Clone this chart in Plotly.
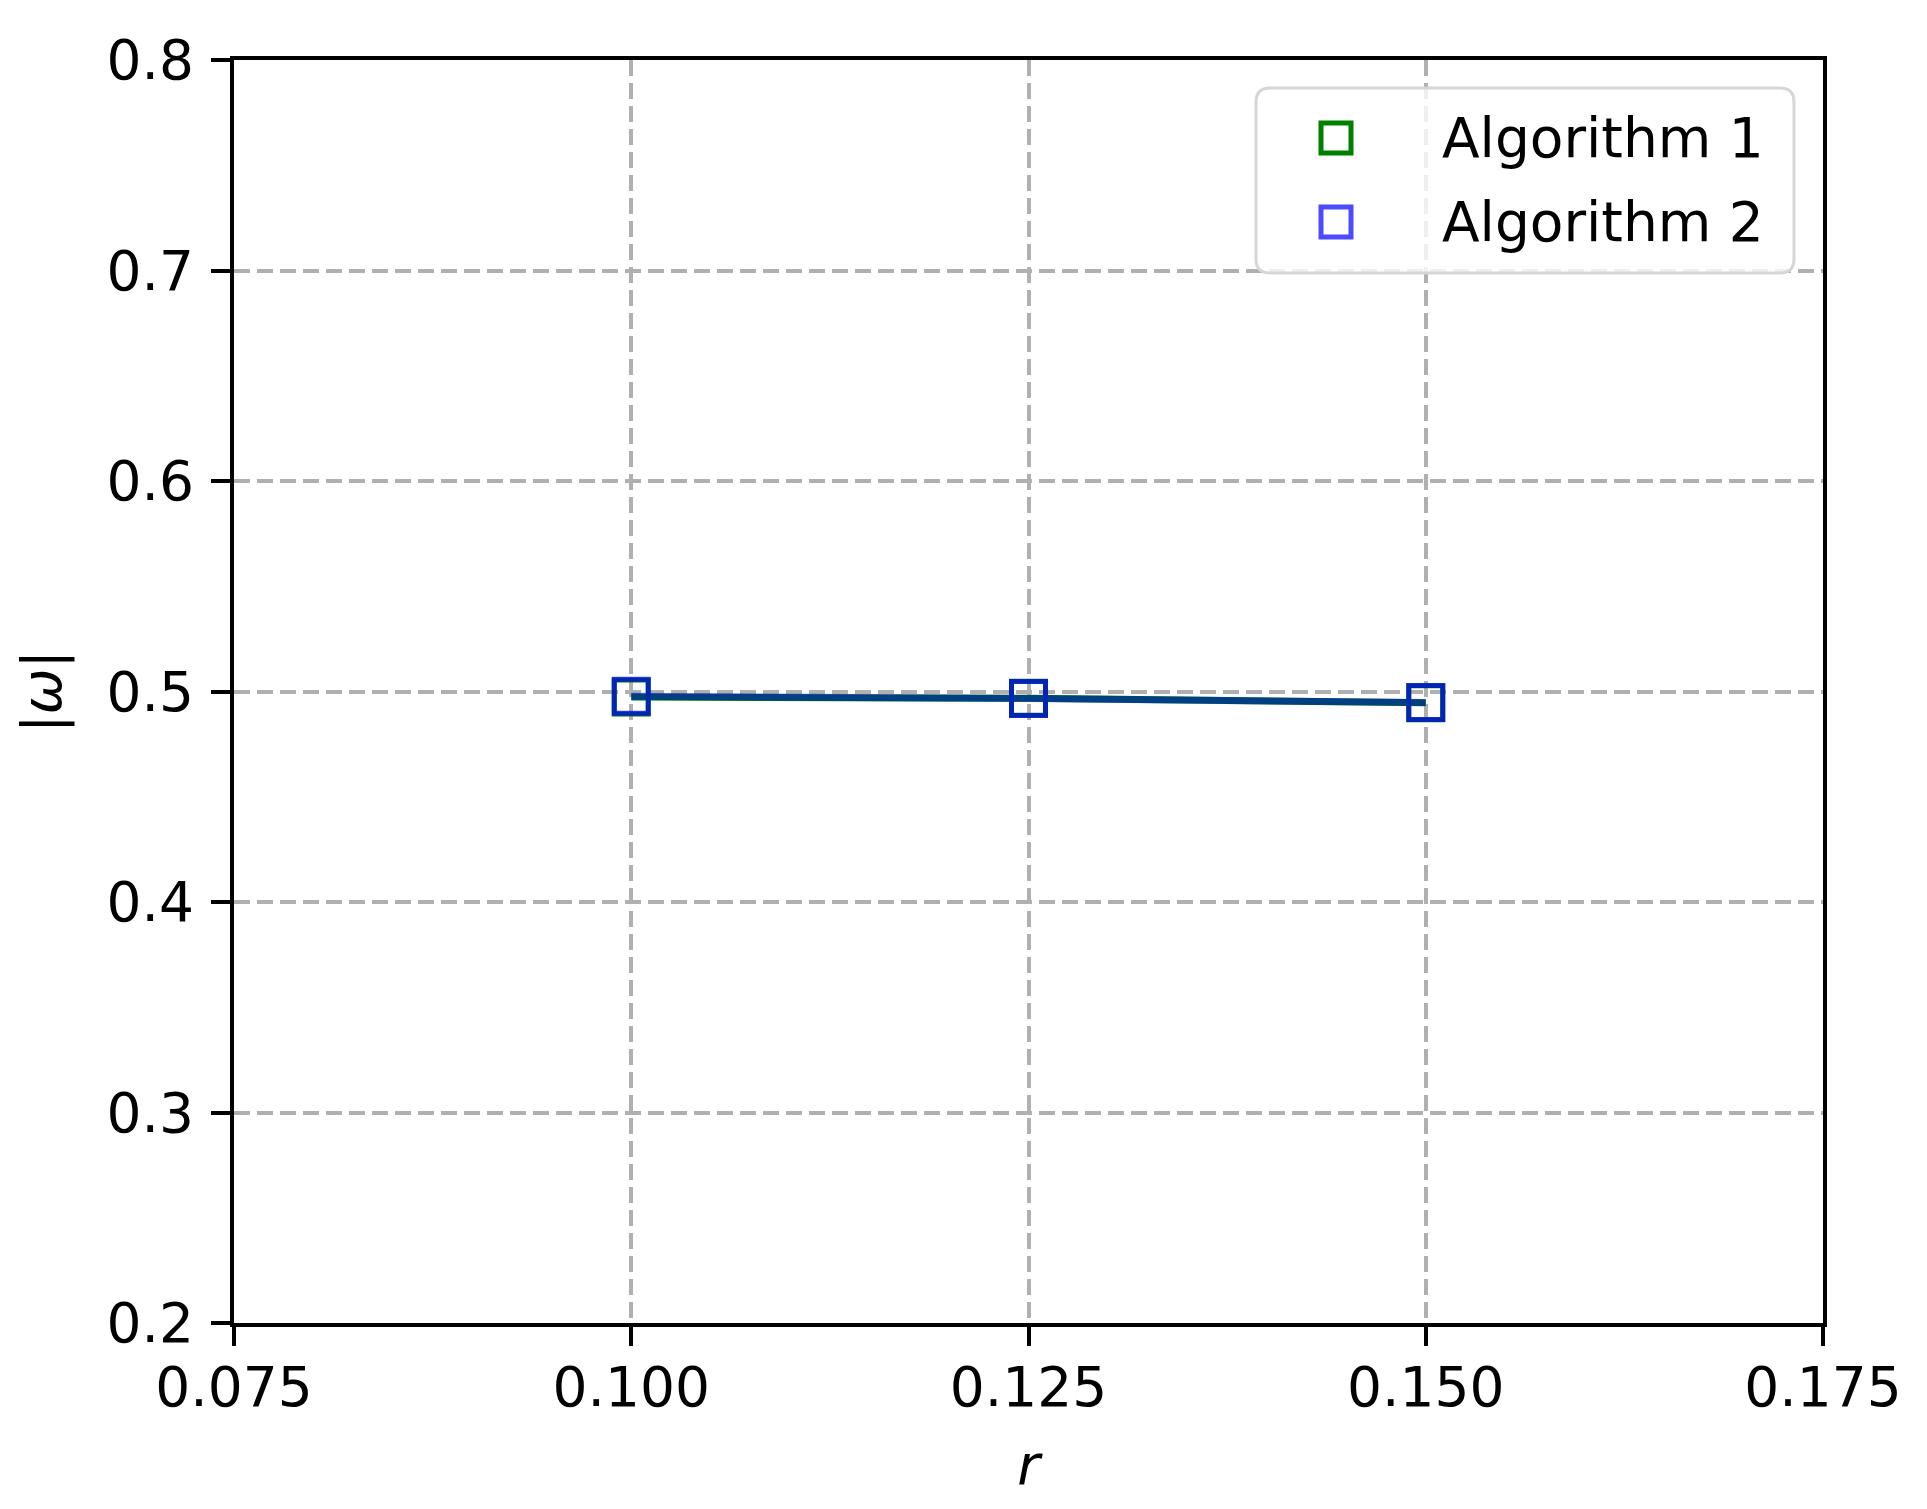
import plotly.graph_objects as go

r_values = [0.100, 0.125, 0.150]
omega_alg1 = [0.4974, 0.4968, 0.4947]
omega_alg2 = [0.4977, 0.4967, 0.4948]
series_names = ["Algorithm 1", "Algorithm 2"]
series_colors = ["#008000", "rgba(0,0,255,0.7)"]
line_colors = ["#008000", "rgba(0,0,255,0.5)"]
x_ticks = [0.075, 0.100, 0.125, 0.150, 0.175]
y_ticks = [0.2, 0.3, 0.4, 0.5, 0.6, 0.7, 0.8]
x_range = [0.075, 0.175]
y_range = [0.2, 0.8]

FONT = "DejaVu Sans"
FS = 55
MSIZE = 34
MLW = 5

# page-pixel geometry of the plot area (body has an 8px margin)
PL, PR, PT, PB = 234, 1823, 60, 1323
W, H = 1911, 1493


def px_to_x(px):
    return x_range[0] + (px - PL) / (PR - PL) * (x_range[1] - x_range[0])


def px_to_y(py):
    return y_range[1] - (py - PT) / (PB - PT) * (y_range[1] - y_range[0])


fig = go.Figure()

for ys, lc in zip([omega_alg1, omega_alg2], line_colors):
    fig.add_trace(go.Scatter(x=r_values, y=ys, mode="lines",
                             line=dict(color=lc, width=7), showlegend=False, hoverinfo="skip"))
for ys, mc, nm in zip([omega_alg1, omega_alg2], series_colors, series_names):
    fig.add_trace(go.Scatter(x=r_values, y=ys, mode="markers", name=nm, showlegend=False,
                             marker=dict(symbol="square-open", size=MSIZE, color=mc,
                                         line=dict(width=MLW, color=mc))))

# ---- legend (box + markers + labels), positioned in page pixels ----
leg_x0, leg_x1, leg_y0, leg_y1, rad = 1256, 1794, 88, 273, 14
leg_marker_x = 1336
leg_text_x = 1440
leg_rows_y = [138, 222]

fig.add_trace(go.Scatter(x=[leg_marker_x] * 2, y=leg_rows_y, mode="markers",
                         xaxis="x2", yaxis="y2", showlegend=False, hoverinfo="skip",
                         marker=dict(symbol="square-open", size=MSIZE - 4, color=series_colors,
                                     line=dict(width=MLW, color=series_colors))))
X = px_to_x
Y = px_to_y
path = (f"M {X(leg_x0 + rad)},{Y(leg_y0)} L {X(leg_x1 - rad)},{Y(leg_y0)} "
        f"Q {X(leg_x1)},{Y(leg_y0)} {X(leg_x1)},{Y(leg_y0 + rad)} "
        f"L {X(leg_x1)},{Y(leg_y1 - rad)} Q {X(leg_x1)},{Y(leg_y1)} {X(leg_x1 - rad)},{Y(leg_y1)} "
        f"L {X(leg_x0 + rad)},{Y(leg_y1)} Q {X(leg_x0)},{Y(leg_y1)} {X(leg_x0)},{Y(leg_y1 - rad)} "
        f"L {X(leg_x0)},{Y(leg_y0 + rad)} Q {X(leg_x0)},{Y(leg_y0)} {X(leg_x0 + rad)},{Y(leg_y0)} Z")
fig.add_shape(type="path", path=path, xref="x", yref="y", layer="between",
              fillcolor="rgba(255,255,255,0.8)", line=dict(color="#d6d6d6", width=3))
for yy, nm in zip(leg_rows_y, series_names):
    fig.add_annotation(x=leg_text_x, y=yy, xref="x2", yref="y2", text=nm, showarrow=False,
                       xanchor="left", yanchor="middle",
                       font=dict(family=FONT, size=FS, color="black"))

axis_common = dict(
    showline=True, linecolor="black", linewidth=4, mirror=True,
    ticks="outside", ticklen=19, tickwidth=4, tickcolor="black",
    showgrid=True, gridcolor="#b0b0b0", gridwidth=4, griddash="16px,7px",
    zeroline=False,
    tickfont=dict(family=FONT, size=FS, color="black"),
)

xaxis = dict(range=x_range, tickvals=x_ticks, tickformat=".3f",
             ticklabelstandoff=-6, anchor="y",
             title=dict(text="<i>r</i>", font=dict(family=FONT, size=FS, color="black"), standoff=28),
             **axis_common)
yaxis = dict(range=y_range, tickvals=y_ticks, tickformat=".1f",
             ticklabelstandoff=6, anchor="x",
             title=dict(text="|<i>ω</i>|", font=dict(family=FONT, size=FS, color="black"), standoff=28),
             **axis_common)

fig.update_layout(
    xaxis=xaxis,
    yaxis=yaxis,
    xaxis2=dict(overlaying="x", range=[PL, PR], visible=False, anchor="y2", fixedrange=True),
    yaxis2=dict(overlaying="y", range=[PB, PT], visible=False, anchor="x2", fixedrange=True),
    width=W, height=H,
    margin=dict(l=PL - 8, r=W - (PR - 8), t=PT - 8, b=H - (PB - 8)),
    plot_bgcolor="white", paper_bgcolor="white",
    font=dict(family=FONT, color="black"),
    showlegend=False,
)

fig.write_html("out.html")
